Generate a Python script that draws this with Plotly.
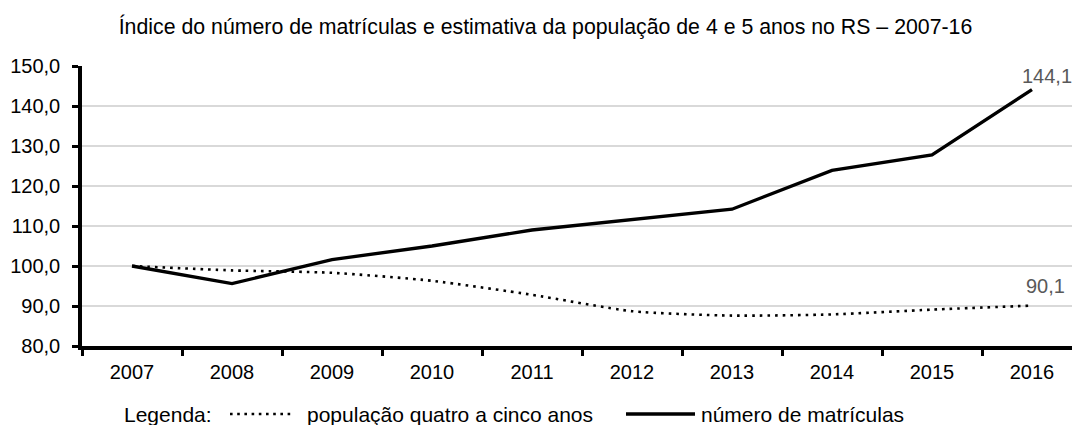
import plotly.graph_objects as go

years = ["2007", "2008", "2009", "2010", "2011", "2012", "2013", "2014", "2015", "2016"]
populacao = [100.0, 98.9, 98.3, 96.3, 92.8, 88.7, 87.6, 87.9, 89.1, 90.1]
matriculas = [100.0, 95.6, 101.6, 105.0, 109.0, 111.5, 114.2, 123.9, 127.8, 144.1]
y_ticks = [80, 90, 100, 110, 120, 130, 140, 150]
serie_pop = "população quatro a cinco anos"
serie_mat = "número de matrículas"
titulo = "Índice do número de matrículas e estimativa da população de 4 e 5 anos no RS – 2007-16"

FONT = "Liberation Sans, Arial, sans-serif"
W, H = 1072, 425
L, R, T, B = 82, 0, 66, 79
PW, PH = W - L - R, H - T - B
CAT_PX = 100.0  # pixel width of one category

def px_x(p):  # pixel -> paper x
    return (p - L) / PW

def px_y(p):  # pixel -> paper y
    return (H - B - p) / PH

def fmt(v):
    return f"{v:.1f}".replace(".", ",")

fig = go.Figure()
fig.add_trace(go.Scatter(
    x=years, y=populacao, mode="lines", name=serie_pop, showlegend=False,
    line=dict(color="black", width=2.6, dash="2.6px,5px", shape="spline", smoothing=0.6),
))
fig.add_trace(go.Scatter(
    x=years, y=matriculas, mode="lines", name=serie_mat, showlegend=False,
    line=dict(color="black", width=3.3),
))

last = len(years) - 1
fig.add_annotation(x=last, y=matriculas[-1], xref="x", yref="y", text=fmt(matriculas[-1]),
                   showarrow=False, xanchor="left", yanchor="bottom", xshift=-12, yshift=1,
                   font=dict(family=FONT, size=20, color="#595959"))
fig.add_annotation(x=last, y=populacao[-1], xref="x", yref="y", text=fmt(populacao[-1]),
                   showarrow=False, xanchor="left", yanchor="bottom", xshift=-8, yshift=7,
                   font=dict(family=FONT, size=20, color="#595959"))

# legend drawn manually (label + samples)
LEG_Y = 414
leg_font = dict(family=FONT, size=21, color="black")
fig.add_annotation(x=px_x(122), y=px_y(LEG_Y), xref="paper", yref="paper", text="Legenda:",
                   showarrow=False, xanchor="left", yanchor="middle", font=leg_font)
fig.add_shape(type="line", xref="paper", yref="paper", x0=px_x(230), x1=px_x(294),
              y0=px_y(LEG_Y), y1=px_y(LEG_Y), line=dict(color="black", width=2.6, dash="2.6px,4.6px"))
fig.add_annotation(x=px_x(305), y=px_y(LEG_Y), xref="paper", yref="paper", text=serie_pop,
                   showarrow=False, xanchor="left", yanchor="middle", font=leg_font)
fig.add_shape(type="line", xref="paper", yref="paper", x0=px_x(626), x1=px_x(695),
              y0=px_y(LEG_Y), y1=px_y(LEG_Y), line=dict(color="black", width=3.3))
fig.add_annotation(x=px_x(699), y=px_y(LEG_Y), xref="paper", yref="paper", text=serie_mat,
                   showarrow=False, xanchor="left", yanchor="middle", font=leg_font)

fig.update_layout(
    width=W, height=H,
    margin=dict(l=L, r=R, t=T, b=B),
    paper_bgcolor="white", plot_bgcolor="white",
    separators=",.",
    font=dict(family=FONT, size=20, color="black"),
    title=dict(text=titulo, x=545.5 / W, xref="container", xanchor="center",
               y=1 - 27 / H, yref="container", yanchor="middle",
               font=dict(family=FONT, size=21.3, color="black")),
    showlegend=False,
    xaxis=dict(type="category", range=[-0.5, -0.5 + PW / CAT_PX], tickson="boundaries",
               showline=True, linecolor="black", linewidth=3.5,
               ticks="outside", ticklen=6, tickwidth=3, tickcolor="black",
               ticklabelstandoff=5,
               showgrid=False, zeroline=False, fixedrange=True, automargin=False,
               tickfont=dict(family=FONT, size=20, color="black")),
    yaxis=dict(range=[80, 150], tickvals=y_ticks, tickformat=".1f",
               showline=True, linecolor="black", linewidth=3.5,
               ticks="outside", ticklen=6, tickwidth=3, tickcolor="black",
               ticklabelstandoff=8,
               showgrid=True, gridcolor="#d9d9d9", gridwidth=1.5, zeroline=False,
               automargin=False,
               tickfont=dict(family=FONT, size=20, color="black")),
)

fig.write_html(
    "out.html",
    config={"displayModeBar": False},
    post_script="document.body.style.margin='0';document.body.style.overflow='hidden';",
)
